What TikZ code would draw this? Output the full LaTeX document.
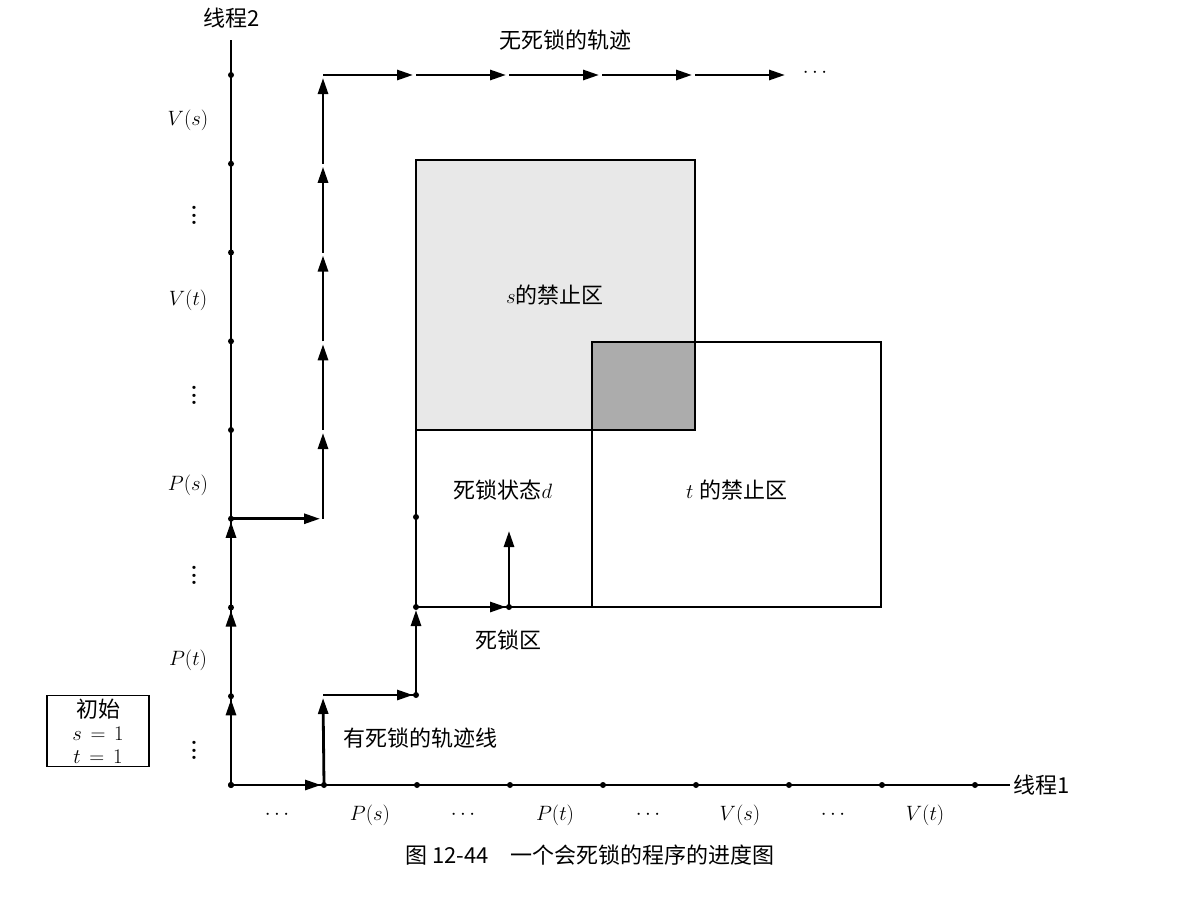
\documentclass[tikz,border=0pt]{standalone}
\usepackage{fontspec}
\newfontfamily\cjk{Noto Sans CJK SC}
\usetikzlibrary{arrows.meta}
\tikzset{
  pt/.style={circle, fill, inner sep=0pt, minimum size=6pt},
  trk/.style={line width=2.8pt, -{Triangle[length=16pt,width=10pt]}, shorten >=3pt},
  lbl/.style={font=\fontsize{22}{26}\selectfont},
  zone/.style={draw, line width=1.2pt}
}
\begin{document}
\begin{tikzpicture}[x=1pt, y=-1pt]
    \useasboundingbox (0,0) rectangle (1188,910);
    % grid points on the axes
    \foreach \i in {0,...,8} {
      \coordinate (x\i) at (231+93*\i,785);
      \coordinate (y\i) at (231,785-88.75*\i);
    }
    \coordinate (xend) at (1010,785);
    \coordinate (yend) at (231,40);
    % forbidden zones
    \fill[gray!18] (416,160) rectangle (695,430);
    \fill[gray!65] (592,342) rectangle (695,430);
    \draw[zone] (416,160) rectangle (695,430);
    \draw[zone] (592,342) rectangle (881,607);
    \draw[zone] (416,430) -- (416,607) -- (592,607);
    \node[lbl] (sz) at (555,295) {$s$\cjk 的禁止区};
    \node[lbl] (tz) at (737,490) {$t$ \cjk 的禁止区};
    \node[lbl] (dz) at (503,490) {\cjk 死锁状态$d$};
    % axes
    \draw[line width=1.4pt] (x0) -- (xend);
    \draw[line width=1.4pt] (x0) -- (yend);
    \foreach \i in {0,...,8} { \node[pt] at (x\i) {}; \node[pt] at (y\i) {}; }
    \node[lbl, anchor=west] (t1) at (xend) {\cjk 线程1};
    \node[lbl] (t2) at (232,18) {\cjk 线程2};
    % axis labels
    \foreach \xx/\tt in {277/\cdots, 370/P(s), 463/\cdots, 555/P(t), 648/\cdots, 740/V(s), 833/\cdots, 925/V(t)}
      \node[lbl] at (\xx,815) {$\tt$};
    \foreach \yy/\tt in {660/P(t), 485/P(s), 300/V(t), 120/V(s)}
      \node[lbl] at (188,\yy) {$\tt$};
    \foreach \yy in {745,570,390,210}
      \node[lbl, scale=1.8, inner sep=0pt] at (194,\yy) {$\vdots$};
    % deadlock trajectory
    \coordinate (a1) at (323,695);
    \coordinate (a2) at (416,695);
    \coordinate (a3) at (416,607);
    \coordinate (a4) at (509,607);
    \coordinate (a5) at (509,528);
    \draw[trk] (x0) -- (x1);
    \draw[trk] (x1) -- (a1);
    \draw[line width=2.8pt] (a1) -- (a2);
    \draw[trk] (a1) -- (a2);
    \draw[trk] (a2) -- (a3);
    \draw[trk] (a3) -- (a4);
    \draw[trk] (a4) -- (a5);
    \node[pt] at (a2) {}; \node[pt] at (a3) {}; \node[pt] at (a4) {};
    \node[pt] (dd) at (416,517) {};
    \node[lbl] (dl) at (508,640) {\cjk 死锁区};
    \node[lbl, anchor=west] (tl) at (340,738) {\cjk 有死锁的轨迹线};
    % deadlock-free trajectory
    \coordinate (b0) at (323,518.75);
    \draw[trk] (y0) -- (y1);
    \draw[trk] (y1) -- (y2);
    \draw[trk] (y2) -- (y3);
    \draw[trk] (y3) -- (b0);
    \foreach \i in {0,...,4}
      \draw[trk] (323,518.75-88.75*\i) -- (323,518.75-88.75*\i-88.75);
    \foreach \i in {0,...,4}
      \draw[trk] (323+93*\i,75) -- (323+93*\i+93,75);
    \node[lbl] (dots) at (815,73) {$\cdots$};
    \node[lbl] (fl) at (565,40) {\cjk 无死锁的轨迹};
    % start box
    \node[draw, line width=1.2pt, lbl, align=center, inner sep=3pt, text width=96pt] (init) at (98,731)
      {{\cjk 初始}\\[-3pt] $s=1$\\[-3pt] $t=1$};
    % caption
    \node[lbl] (cap) at (590,855) {\cjk 图 12-44\quad 一个会死锁的程序的进度图};
\end{tikzpicture}
\end{document}
